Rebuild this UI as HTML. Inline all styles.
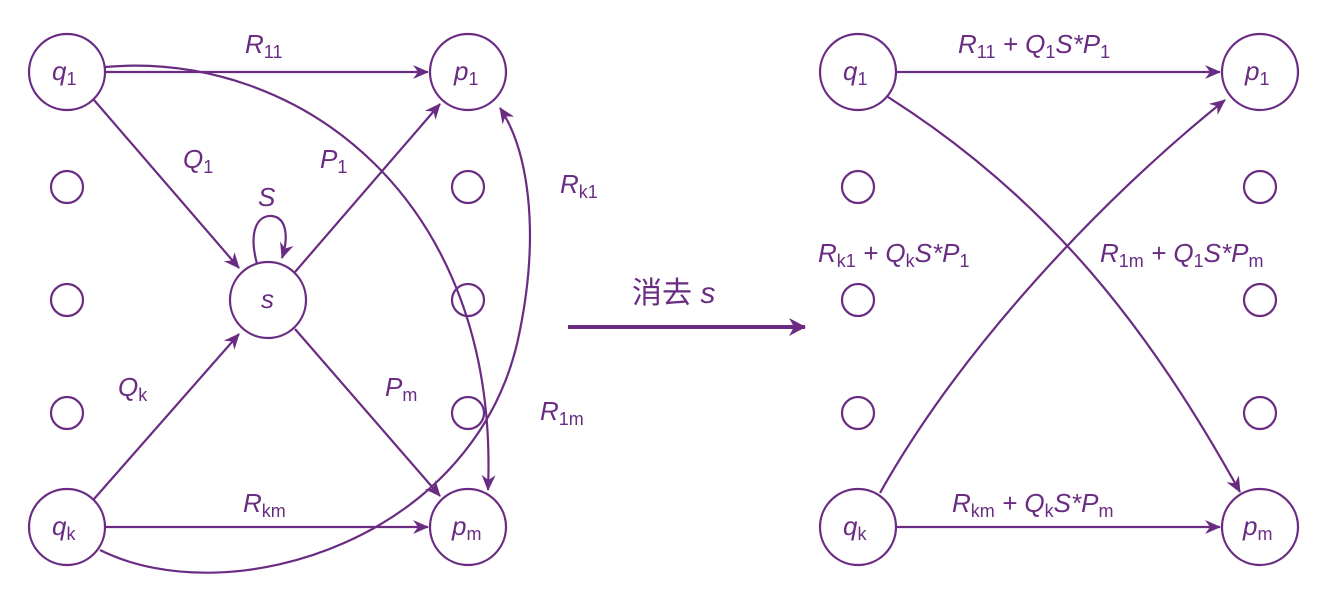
<!DOCTYPE html>
<html><head><meta charset="utf-8"><style>
body{margin:0;background:#fff;width:1342px;height:600px;overflow:hidden}
text{font-family:"Liberation Sans","Noto Sans CJK SC",sans-serif;font-style:italic;fill:#6a2c82;font-size:26px}
.s{font-size:18px;font-style:normal}
</style></head><body>
<svg width="1342" height="600" viewBox="0 0 1342 600">
<defs>
<marker id="a" markerWidth="20" markerHeight="20" refX="15" refY="8" orient="auto" markerUnits="userSpaceOnUse"><path d="M0,1 L16,8 L0,15 L5,8 Z" fill="#6a2c82"/></marker>
<marker id="b" markerWidth="24" markerHeight="24" refX="16" refY="10" orient="auto" markerUnits="userSpaceOnUse"><path d="M0,1 L17,10 L0,19 L5,10 Z" fill="#6a2c82"/></marker>
</defs>
<g fill="none" stroke="#6a2c82" stroke-width="2.2">
<circle cx="67" cy="72" r="38"/><circle cx="468" cy="72" r="38"/>
<circle cx="67" cy="527" r="38"/><circle cx="468" cy="527" r="38"/>
<circle cx="268" cy="300" r="38"/>
<circle cx="67" cy="187" r="16"/><circle cx="67" cy="300" r="16"/><circle cx="67" cy="413" r="16"/>
<circle cx="468" cy="187" r="16"/><circle cx="468" cy="300" r="16"/><circle cx="468" cy="413" r="16"/>
<circle cx="858" cy="72" r="38"/><circle cx="1260" cy="72" r="38"/>
<circle cx="858" cy="527" r="38"/><circle cx="1260" cy="527" r="38"/>
<circle cx="858" cy="187" r="16"/><circle cx="858" cy="300" r="16"/><circle cx="858" cy="413" r="16"/>
<circle cx="1260" cy="187" r="16"/><circle cx="1260" cy="300" r="16"/><circle cx="1260" cy="413" r="16"/>
<path d="M106,72 L428,72" marker-end="url(#a)"/>
<path d="M106,527 L428,527" marker-end="url(#a)"/>
<path d="M94,100 L239,268" marker-end="url(#a)"/>
<path d="M94,499 L239,334" marker-end="url(#a)"/>
<path d="M295,272 L440,104" marker-end="url(#a)"/>
<path d="M295,329 L440,496" marker-end="url(#a)"/>
<path d="M257,264 C248,230 258,215 272,216 C288,218 288,240 282,258" marker-end="url(#a)"/>
<path d="M105,67 C300,50 500,200 488,490" marker-end="url(#a)"/>
<path d="M100,550 C230,615 480,540 520,330 C540,230 528,150 500,108" marker-end="url(#a)"/>
<path d="M897,72 L1220,72" marker-end="url(#a)"/>
<path d="M897,527 L1220,527" marker-end="url(#a)"/>
<path d="M888,97 C1050,200 1150,330 1240,492" marker-end="url(#a)"/>
<path d="M880,493 C960,350 1100,200 1225,100" marker-end="url(#a)"/>
<path d="M568,327 L805,327" stroke-width="4" marker-end="url(#b)"/>
</g>
<text x="52" y="80">q<tspan class="s" dy="5">1</tspan></text>
<text x="454" y="80">p<tspan class="s" dy="5">1</tspan></text>
<text x="52" y="535">q<tspan class="s" dy="5">k</tspan></text>
<text x="452" y="535">p<tspan class="s" dy="5">m</tspan></text>
<text x="261" y="308">s</text>
<text x="843" y="80">q<tspan class="s" dy="5">1</tspan></text>
<text x="1245" y="80">p<tspan class="s" dy="5">1</tspan></text>
<text x="843" y="535">q<tspan class="s" dy="5">k</tspan></text>
<text x="1243" y="535">p<tspan class="s" dy="5">m</tspan></text>
<text x="245" y="53">R<tspan class="s" dy="5">11</tspan></text>
<text x="243" y="512">R<tspan class="s" dy="5">km</tspan></text>
<text x="183" y="168">Q<tspan class="s" dy="5">1</tspan></text>
<text x="320" y="168">P<tspan class="s" dy="5">1</tspan></text>
<text x="258" y="206">S</text>
<text x="118" y="396">Q<tspan class="s" dy="5">k</tspan></text>
<text x="385" y="396">P<tspan class="s" dy="5">m</tspan></text>
<text x="560" y="193">R<tspan class="s" dy="5">k1</tspan></text>
<text x="540" y="420">R<tspan class="s" dy="5">1m</tspan></text>
<text x="632" y="303" style="font-style:normal;font-size:30px">消去 <tspan style="font-style:italic">s</tspan></text>
<text x="958" y="53">R<tspan class="s" dy="5">11</tspan><tspan dy="-5"> + Q</tspan><tspan class="s" dy="5">1</tspan><tspan dy="-5">S*P</tspan><tspan class="s" dy="5">1</tspan></text>
<text x="952" y="512">R<tspan class="s" dy="5">km</tspan><tspan dy="-5"> + Q</tspan><tspan class="s" dy="5">k</tspan><tspan dy="-5">S*P</tspan><tspan class="s" dy="5">m</tspan></text>
<text x="818" y="262">R<tspan class="s" dy="5">k1</tspan><tspan dy="-5"> + Q</tspan><tspan class="s" dy="5">k</tspan><tspan dy="-5">S*P</tspan><tspan class="s" dy="5">1</tspan></text>
<text x="1100" y="262">R<tspan class="s" dy="5">1m</tspan><tspan dy="-5"> + Q</tspan><tspan class="s" dy="5">1</tspan><tspan dy="-5">S*P</tspan><tspan class="s" dy="5">m</tspan></text>
</svg>
</body></html>
